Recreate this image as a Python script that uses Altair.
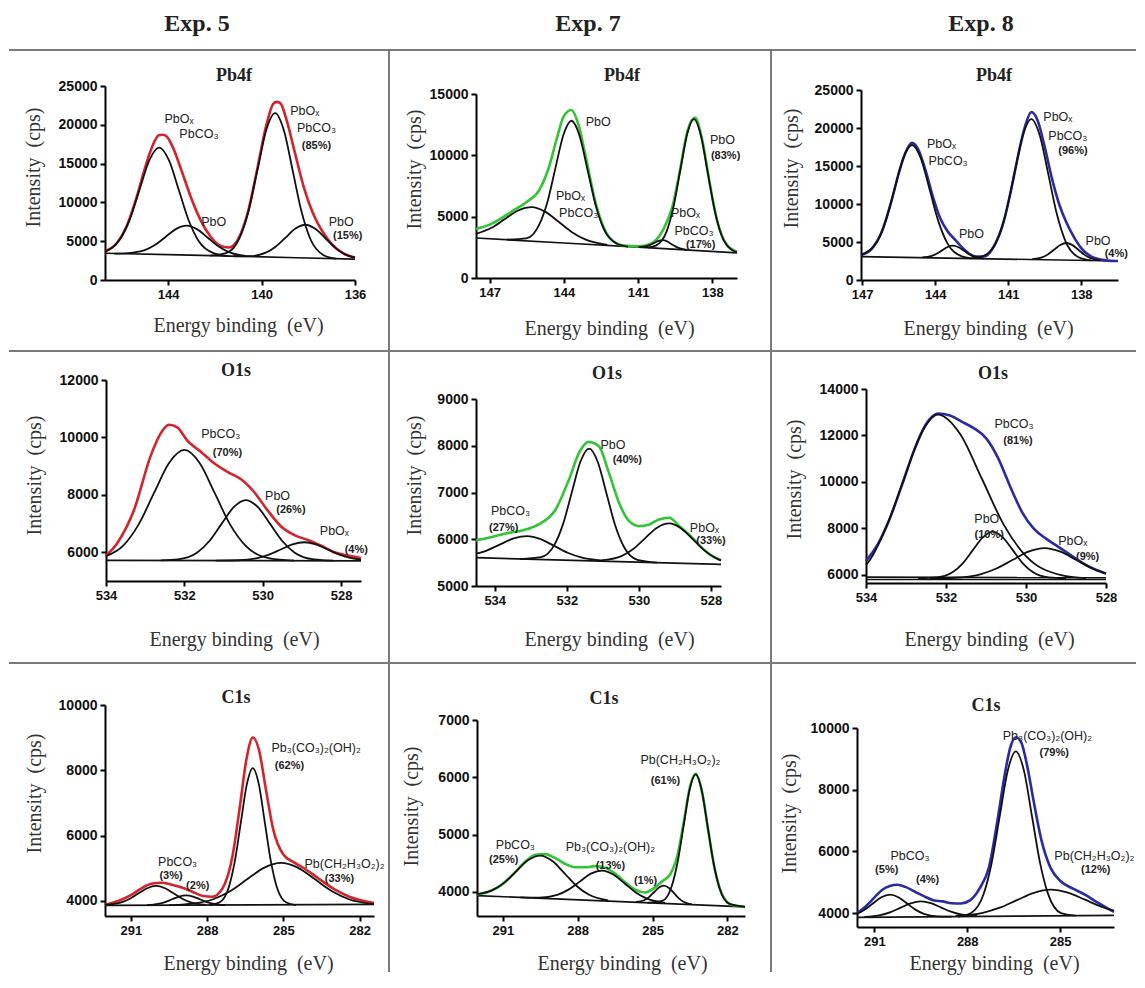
import altair as alt
import pandas as pd

# ---------------------------------------------------------------- headers
EXPERIMENTS = ["Exp. 5", "Exp. 7", "Exp. 8"]
REGIONS = ["Pb4f", "O1s", "C1s"]
ENV_COLORS = ["#d3232b", "#33c433", "#2b2aa6"]
X_TITLE = "Energy binding\u00a0 (eV)"
Y_TITLE = "Intensity\u00a0 (cps)"

# ---------------------------------------------------------------- Exp. 5 - Pb4f
E5_PB_XT = [144, 140, 136]
E5_PB_YT = [0, 5000, 10000, 15000, 20000, 25000]
E5_PB_BASE = [(146.7, 3450), (143.5, 3240), (141.3, 3080), (138.5, 2870), (136.0, 2700)]
E5_PB_ENV = [(146.7, 3700), (146.2, 4740), (145.8, 6744), (145.4, 10136), (145.0, 14322), (144.7, 17044),
             (144.4, 18650), (144.25, 18720), (144.1, 18600), (143.8, 17122), (143.4, 13885), (143.0, 10460),
             (142.6, 7661), (142.2, 5672), (141.8, 4464), (141.4, 4184), (141.0, 5273), (140.6, 8548),
             (140.2, 14040), (139.8, 19895), (139.5, 22700), (139.35, 22950), (139.2, 22800), (138.9, 20319),
             (138.6, 16734), (138.2, 12047), (137.8, 8607), (137.4, 6277), (137.0, 4661), (136.5, 3436),
             (136.0, 2890)]
E5_PB_A = [(146.7, 3650), (146.06, 5240), (145.64, 7815), (145.22, 11670), (144.80, 15450), (144.38, 17070),
           (143.96, 15410), (143.54, 11590), (143.12, 7695), (142.70, 5060), (142.03, 3430), (141.4, 3080)]
E5_PB_B = [(146.3, 3400), (145.72, 3465), (145.0, 3844), (144.55, 4533), (144.1, 5572), (143.65, 6590),
           (143.2, 7000), (142.75, 6527), (142.3, 5446), (141.85, 4344), (141.4, 3592), (140.68, 3103)]
E5_PB_C = [(142.2, 3130), (141.52, 3455), (140.92, 5557), (140.545, 9048), (140.17, 14255), (139.795, 19354),
           (139.42, 21510), (139.045, 19301), (138.67, 14150), (138.295, 8891), (137.92, 5347), (137.32, 3160),
           (136.8, 2750)]
E5_PB_D = [(141.2, 3060), (140.5, 3075), (139.82, 3518), (139.40, 4296), (138.97, 5470), (138.55, 6628),
           (138.12, 7120), (137.70, 6590), (137.27, 5380), (136.85, 4146), (136.42, 3308), (136.0, 2888)]
E5_PB_LABELS = [(143.53, 20710, "PbOₓ", 0), (142.68, 18780, "PbCO₃", 0), (142.05, 7420, "PbO", 0),
                (138.15, 21780, "PbOₓ", 0), (137.65, 19550, "PbCO₃", 0), (137.65, 17280, "(85%)", 1),
                (136.59, 7500, "PbO", 0), (136.31, 5700, "(15%)", 1)]

# ---------------------------------------------------------------- Exp. 7 - Pb4f
E7_PB_XT = [147, 144, 141, 138]
E7_PB_YT = [0, 5000, 10000, 15000]
E7_PB_BASE = [(147.55, 3263), (144.0, 2855), (141.0, 2510), (137.0, 2050)]
E7_PB_ENV = [(147.55, 4000), (147.0, 4350), (146.5, 4900), (146.0, 5550), (145.5, 6200), (145.0, 7150),
             (144.6, 9050), (144.3, 11250), (144.0, 13200), (143.7, 13700), (143.4, 12450), (143.1, 9750),
             (142.7, 6000), (142.3, 3750), (141.9, 2870), (141.5, 2620), (141.0, 2580), (140.5, 2780),
             (140.0, 3880), (139.6, 5900), (139.3, 8850), (139.0, 12000), (138.7, 13080), (138.4, 11200),
             (138.1, 7700), (137.8, 4650), (137.4, 2680), (137.0, 2150)]
E7_PB_A = [(147.55, 3600), (146.925, 4093), (146.38, 4812), (145.835, 5516), (145.29, 5780), (144.745, 5392),
           (144.2, 4562), (143.655, 3717), (143.11, 3129), (142.24, 2707)]
E7_PB_B = [(146.3, 3130), (145.51, 3228), (145.0, 4323), (144.665, 6178), (144.34, 8958), (144.015, 11680),
           (143.69, 12820), (143.365, 11607), (143.04, 8810), (142.715, 5954), (142.39, 4023), (141.87, 2808),
           (141.4, 2560)]
E7_PB_C = [(140.98, 2522), (140.7, 2569), (140.525, 2678), (140.35, 2850), (140.175, 3020), (140.0, 3080),
           (139.825, 2980), (139.65, 2770), (139.475, 2557), (139.3, 2408), (139.02, 2297)]
E7_PB_D = [(140.6, 2480), (140.28, 2639), (139.84, 3825), (139.565, 5819), (139.29, 8803), (139.015, 11725),
           (138.74, 12950), (138.465, 11661), (138.19, 8677), (137.915, 5629), (137.64, 3572), (137.2, 2285),
           (137.0, 2090)]
E7_PB_LABELS = [(142.61, 12680, "PbO", 0), (143.73, 6680, "PbOₓ", 0), (143.4, 5320, "PbCO₃", 0),
                (137.59, 11235, "PbO", 0), (137.46, 9950, "(83%)", 1), (139.08, 5320, "PbOₓ", 0),
                (138.74, 3820, "PbCO₃", 0), (138.47, 2730, "(17%)", 1)]

# ---------------------------------------------------------------- Exp. 8 - Pb4f
E8_PB_XT = [147, 144, 141, 138]
E8_PB_YT = [0, 5000, 10000, 15000, 20000, 25000]
E8_PB_BASE = [(147.05, 3080), (136.49, 2500)]
E8_PB_ENV = [(147.05, 3290), (146.6, 4132), (146.2, 6304), (145.8, 10380), (145.5, 14047), (145.2, 16950),
             (144.95, 18050), (144.7, 17200), (144.4, 14450), (144.1, 11000), (143.8, 8150), (143.5, 6450),
             (143.2, 5350), (142.9, 4300), (142.6, 3453), (142.3, 3087), (142.0, 3087), (141.6, 4373),
             (141.2, 7546), (140.9, 11596), (140.6, 16293), (140.3, 20300), (140.05, 22100), (139.8, 21050),
             (139.5, 17500), (139.2, 13300), (138.9, 9900), (138.6, 7500), (138.3, 5650), (138.0, 4200),
             (137.6, 3100), (137.2, 2680), (136.8, 2520), (136.49, 2500)]
E8_PB_A = [(147.05, 3290), (146.39, 5046), (146.03, 7828), (145.67, 11977), (145.31, 16042), (144.95, 17760),
           (144.59, 16003), (144.23, 11899), (143.87, 7710), (143.51, 4888), (142.93, 3147), (142.5, 2840)]
E8_PB_B = [(144.53, 2974), (144.17, 3144), (143.945, 3445), (143.72, 3898), (143.495, 4340), (143.27, 4520),
           (143.045, 4316), (142.82, 3849), (142.595, 3372), (142.37, 3046), (142.01, 2836)]
E8_PB_C = [(142.5, 2860), (142.01, 3169), (141.45, 5273), (141.1, 8755), (140.75, 13944), (140.4, 19027),
           (140.05, 21180), (139.7, 18989), (139.35, 13868), (139.0, 8640), (138.65, 5119), (138.09, 2953),
           (137.6, 2580)]
E8_PB_D = [(140.01, 2738), (139.61, 2975), (139.36, 3388), (139.11, 4008), (138.86, 4615), (138.61, 4870),
           (138.36, 4589), (138.11, 3954), (137.86, 3306), (137.61, 2865), (137.21, 2584)]
E8_PB_LABELS = [(143.74, 17890, "PbOₓ", 0), (143.47, 15700, "PbCO₃", 0), (142.51, 6050, "PbO", 0),
                (138.96, 21400, "PbOₓ", 0), (138.55, 18990, "PbCO₃", 0), (138.34, 17020, "(96%)", 1),
                (137.31, 5180, "PbO", 0), (136.56, 3420, "(4%)", 1)]

# ---------------------------------------------------------------- Exp. 5 - O1s
E5_O_XT = [534, 532, 530, 528]
E5_O_YT = [6000, 8000, 10000, 12000]
E5_O_BASE = [(534.0, 5720), (527.49, 5700)]
E5_O_ENV = [(534.0, 5880), (533.71, 6326), (533.28, 7490), (532.86, 9357), (532.6, 10150), (532.39, 10440),
            (532.18, 10350), (531.92, 9880), (531.58, 9500), (531.24, 9100), (530.9, 8800), (530.56, 8550),
            (530.22, 8100), (529.87, 7450), (529.53, 6900), (529.19, 6600), (528.85, 6430), (528.51, 6230),
            (528.17, 6000), (527.83, 5883), (527.49, 5800)]
E5_O_A = [(534.0, 5865), (533.56, 6232), (533.17, 6962), (532.78, 8049), (532.39, 9113), (532.0, 9566),
          (531.61, 9113), (531.22, 8049), (530.83, 6962), (530.44, 6232), (529.82, 5786), (529.2, 5712)]
E5_O_B = [(532.6, 5715), (532.17, 5752), (531.67, 5995), (531.36, 6394), (531.05, 6989), (530.74, 7570),
          (530.43, 7818), (530.12, 7570), (529.81, 6989), (529.5, 6394), (529.19, 5995), (528.69, 5752),
          (528.2, 5712)]
E5_O_C = [(531.2, 5710), (530.62, 5723), (530.14, 5797), (529.84, 5918), (529.54, 6098), (529.24, 6275),
          (528.94, 6350), (528.64, 6275), (528.34, 6098), (528.04, 5918), (527.74, 5797), (527.49, 5744)]
E5_O_LABELS = [(531.07, 10114, "PbCO₃", 0), (530.9, 9473, "(70%)", 1), (529.62, 7958, "PbO", 0),
               (529.28, 7457, "(26%)", 1), (528.17, 6734, "PbOₓ", 0), (527.61, 6093, "(4%)", 1)]

# ---------------------------------------------------------------- Exp. 7 - O1s
E7_O_XT = [534, 532, 530, 528]
E7_O_YT = [5000, 6000, 7000, 8000, 9000]
E7_O_BASE = [(534.52, 5605), (527.72, 5463)]
E7_O_ENV = [(534.52, 5975), (534.17, 6032), (533.7, 6125), (533.24, 6189), (532.78, 6317), (532.31, 6637),
            (531.94, 7278), (531.66, 7847), (531.4, 8082), (531.11, 7989), (530.83, 7420), (530.55, 6779),
            (530.27, 6388), (529.99, 6281), (529.71, 6317), (529.44, 6423), (529.16, 6459), (528.88, 6281),
            (528.6, 6100), (528.32, 5870), (528.04, 5680), (527.72, 5550)]
E7_O_A = [(534.52, 5690), (534.225, 5758), (533.85, 5889), (533.475, 6017), (533.1, 6068), (532.725, 6002),
          (532.35, 5858), (531.975, 5711), (531.6, 5610), (531.0, 5540)]
E7_O_B = [(533.3, 5575), (532.72, 5616), (532.34, 5885), (532.1, 6334), (531.86, 7006), (531.62, 7663),
          (531.38, 7940), (531.14, 7653), (530.9, 6986), (530.66, 6304), (530.42, 5845), (530.04, 5560),
          (529.5, 5500)]
E7_O_C = [(531.04, 5549), (530.5, 5635), (530.165, 5788), (529.83, 6020), (529.495, 6246), (529.16, 6338),
          (528.825, 6232), (528.49, 5992), (528.155, 5746), (527.82, 5579), (527.72, 5547)]
E7_O_LABELS = [(530.72, 8025, "PbO", 0), (530.32, 7705, "(40%)", 1), (533.56, 6601, "PbCO₃", 0),
               (533.75, 6246, "(27%)", 1), (528.18, 6246, "PbOₓ", 0), (528.0, 5961, "(33%)", 1)]

# ---------------------------------------------------------------- Exp. 8 - O1s
E8_O_XT = [534, 532, 530, 528]
E8_O_YT = [6000, 8000, 10000, 12000, 14000]
E8_O_BASE1 = [(534.0, 5800), (528.0, 5800)]
E8_O_BASE2 = [(534.0, 5900), (528.0, 5880)]
E8_O_ENV = [(534.0, 6598), (533.7, 7335), (533.4, 8449), (533.1, 9874), (532.8, 11348), (532.5, 12483),
            (532.2, 12947), (531.9, 12860), (531.6, 12588), (531.3, 12308), (531.0, 11888), (530.7, 11038),
            (530.4, 9818), (530.1, 8705), (529.8, 7978), (529.5, 7559), (529.2, 7218), (528.9, 6872),
            (528.6, 6531), (528.3, 6251), (528.0, 6054)]
E8_O_A = [(534.0, 6420), (533.9, 6650), (533.475, 8139), (533.05, 10126), (532.625, 12072), (532.2, 12900),
          (531.65, 12072), (531.1, 10126), (530.55, 8139), (530.0, 6804), (529.12, 5990), (528.5, 5860)]
E8_O_B = [(532.7, 5852), (532.23, 5890), (531.83, 6121), (531.58, 6499), (531.33, 7063), (531.08, 7615),
          (530.83, 7864), (530.58, 7615), (530.33, 7063), (530.08, 6499), (529.83, 6121), (529.43, 5890),
          (529.0, 5855)]
E8_O_C = [(532.4, 5852), (531.78, 5876), (531.14, 6026), (530.74, 6272), (530.34, 6638), (529.94, 6997),
          (529.54, 7150), (529.14, 6997), (528.74, 6638), (528.34, 6272), (528.0, 6054)]
E8_O_LABELS = [(530.3, 12500, "PbCO₃", 0), (530.2, 11750, "(81%)", 1), (530.98, 8409, "PbO", 0),
               (530.92, 7720, "(10%)", 1), (528.83, 7450, "PbOₓ", 0), (528.46, 6760, "(9%)", 1)]

# ---------------------------------------------------------------- Exp. 5 - C1s
E5_C_XT = [291, 288, 285, 282]
E5_C_YT = [4000, 6000, 8000, 10000]
E5_C_BASE = [(292.02, 3866), (281.43, 3897)]
E5_C_ENV = [(292.02, 3880), (291.5, 4000), (291.0, 4180), (290.6, 4380), (290.2, 4530), (289.8, 4560),
            (289.4, 4500), (289.0, 4410), (288.6, 4290), (288.2, 4160), (287.8, 4130), (287.4, 4380),
            (287.0, 5380), (286.7, 6950), (286.45, 8350), (286.2, 9000), (285.95, 8600), (285.7, 7480),
            (285.4, 6200), (285.0, 5420), (284.6, 5190), (284.2, 5010), (283.6, 4680), (283.0, 4360),
            (282.4, 4130), (281.43, 3940)]
E5_C_A = [(292.02, 3880), (291.41, 3950), (291.06, 4062), (290.71, 4228), (290.36, 4391), (290.01, 4460),
          (289.66, 4391), (289.31, 4228), (288.96, 4062), (288.61, 3950), (288.05, 3882)]
E5_C_B = [(290.37, 3876), (289.93, 3911), (289.655, 3967), (289.38, 4052), (289.105, 4135), (288.83, 4170),
          (288.555, 4135), (288.28, 4052), (288.005, 3967), (287.73, 3911), (287.29, 3876)]
E5_C_C = [(287.9, 3880), (287.52, 3953), (287.14, 4438), (286.905, 5234), (286.67, 6417), (286.435, 7577),
          (286.2, 8070), (285.965, 7577), (285.73, 6417), (285.495, 5234), (285.26, 4438), (284.88, 3953),
          (284.5, 3875)]
E5_C_D = [(289.5, 3872), (288.87, 3896), (287.79, 4045), (287.115, 4290), (286.44, 4655), (285.765, 5013),
          (285.09, 5165), (284.415, 5013), (283.74, 4655), (283.065, 4290), (282.39, 4045), (281.43, 3903)]
E5_C_LABELS = [(283.71, 8670, "Pb₃(CO₃)₂(OH)₂", 0), (284.76, 8124, "(62%)", 1), (289.16, 5186, "PbCO₃", 0),
               (289.42, 4753, "(3%)", 1), (288.37, 4464, "(2%)", 1), (282.59, 5134, "Pb(CH₂H₃O₂)₂", 0),
               (282.79, 4670, "(33%)", 1)]

# ---------------------------------------------------------------- Exp. 7 - C1s
E7_C_XT = [291, 288, 285, 282]
E7_C_YT = [4000, 5000, 6000, 7000]
E7_C_BASE = [(292.04, 3936), (281.29, 3738)]
E7_C_ENV = [(292.04, 3960), (291.6, 4000), (291.1, 4111), (290.6, 4303), (290.1, 4530), (289.7, 4650),
            (289.3, 4660), (288.9, 4590), (288.5, 4490), (288.1, 4430), (287.7, 4430), (287.3, 4450),
            (286.9, 4420), (286.5, 4320), (286.1, 4170), (285.7, 4040), (285.3, 3990), (284.9, 4080),
            (284.6, 4190), (284.3, 4300), (284.0, 4640), (283.75, 5210), (283.5, 5830), (283.27, 6060),
            (283.0, 5720), (282.75, 5030), (282.5, 4390), (282.2, 3950), (281.8, 3770), (281.29, 3740)]
E7_C_A = [(292.04, 3960), (291.44, 4026), (290.955, 4158), (290.47, 4359), (289.985, 4556), (289.5, 4635),
          (289.015, 4538), (288.53, 4323), (288.045, 4104), (287.56, 3954), (286.78, 3854)]
E7_C_B = [(290.3, 3905), (289.54, 3899), (288.82, 3948), (288.37, 4040), (287.92, 4180), (287.47, 4319),
          (287.02, 4373), (286.57, 4303), (286.12, 4148), (285.67, 3991), (285.22, 3882), (284.5, 3807)]
E7_C_C = [(285.66, 3824), (285.34, 3854), (285.14, 3910), (284.94, 3994), (284.74, 4077), (284.54, 4110),
          (284.34, 4069), (284.14, 3980), (283.94, 3888), (283.74, 3825), (283.42, 3783)]
E7_C_D = [(285.2, 3810), (284.61, 3844), (284.23, 4100), (283.99, 4526), (283.75, 5163), (283.51, 5787),
          (283.27, 6050), (283.03, 5779), (282.79, 5146), (282.55, 4500), (282.31, 4065), (281.93, 3795),
          (281.29, 3740)]
E7_C_LABELS = [(283.88, 6300, "Pb(CH₂H₃O₂)₂", 0), (284.48, 5934, "(61%)", 1), (290.5, 4827, "PbCO₃", 0),
               (290.97, 4553, "(25%)", 1), (286.69, 4780, "Pb₃(CO₃)₂(OH)₂", 0), (286.69, 4460, "(13%)", 1),
               (285.28, 4186, "(1%)", 1)]

# ---------------------------------------------------------------- Exp. 8 - C1s
E8_C_XT = [291, 288, 285]
E8_C_YT = [4000, 6000, 8000, 10000]
E8_C_BASE = [(291.56, 3860), (283.26, 3930)]
E8_C_ENV = [(291.56, 4000), (291.3, 4200), (291.0, 4500), (290.75, 4750), (290.5, 4880), (290.25, 4920),
            (290.0, 4850), (289.7, 4700), (289.4, 4550), (289.1, 4420), (288.8, 4380), (288.5, 4320),
            (288.2, 4310), (287.9, 4420), (287.6, 4800), (287.3, 5480), (287.0, 7150), (286.8, 8420),
            (286.6, 9400), (286.43, 9700), (286.25, 9520), (286.05, 8700), (285.85, 7600), (285.6, 6350),
            (285.3, 5450), (285.0, 5050), (284.6, 4800), (284.2, 4600), (283.8, 4350), (283.26, 4040)]
E8_C_A = [(291.56, 3975), (291.325, 4102), (291.05, 4311), (290.775, 4513), (290.5, 4600), (290.225, 4516),
          (289.95, 4317), (289.675, 4113), (289.4, 3977), (288.96, 3895), (288.5, 3885)]
E8_C_B = [(291.32, 3875), (290.8, 3937), (290.475, 4033), (290.15, 4177), (289.825, 4317), (289.5, 4378),
          (289.175, 4321), (288.85, 4186), (288.525, 4047), (288.2, 3955), (287.68, 3901)]
E8_C_C = [(288.3, 3890), (287.89, 3998), (287.47, 4619), (287.21, 5634), (286.95, 7144), (286.69, 8622),
          (286.43, 9243), (286.17, 8626), (285.91, 7148), (285.65, 5638), (285.39, 4623), (284.97, 4002),
          (284.5, 3920)]
E8_C_D = [(288.38, 3903), (287.5, 4010), (286.95, 4175), (286.4, 4419), (285.85, 4657), (285.3, 4760),
          (284.75, 4665), (284.2, 4435), (283.65, 4199), (283.26, 4079)]
E8_C_LABELS = [(285.41, 9730, "Pb₃(CO₃)₂(OH)₂", 0), (285.19, 9189, "(79%)", 1), (289.85, 5860, "PbCO₃", 0),
               (290.6, 5400, "(5%)", 1), (289.28, 5059, "(4%)", 1), (283.85, 5405, "(12%)", 1),
               (282.6, 5838, "Pb(CH₂H₃O₂)₂", 2)]

# ---------------------------------------------------------------- assemble data per panel
PANELS = [
    ("E5_PB", [E5_PB_BASE], E5_PB_ENV, [E5_PB_A, E5_PB_B, E5_PB_C, E5_PB_D], E5_PB_LABELS, E5_PB_XT, E5_PB_YT),
    ("E7_PB", [E7_PB_BASE], E7_PB_ENV, [E7_PB_A, E7_PB_B, E7_PB_C, E7_PB_D], E7_PB_LABELS, E7_PB_XT, E7_PB_YT),
    ("E8_PB", [E8_PB_BASE], E8_PB_ENV, [E8_PB_A, E8_PB_B, E8_PB_C, E8_PB_D], E8_PB_LABELS, E8_PB_XT, E8_PB_YT),
    ("E5_O", [E5_O_BASE], E5_O_ENV, [E5_O_A, E5_O_B, E5_O_C], E5_O_LABELS, E5_O_XT, E5_O_YT),
    ("E7_O", [E7_O_BASE], E7_O_ENV, [E7_O_A, E7_O_B, E7_O_C], E7_O_LABELS, E7_O_XT, E7_O_YT),
    ("E8_O", [E8_O_BASE1, E8_O_BASE2], E8_O_ENV, [E8_O_A, E8_O_B, E8_O_C], E8_O_LABELS, E8_O_XT, E8_O_YT),
    ("E5_C", [E5_C_BASE], E5_C_ENV, [E5_C_A, E5_C_B, E5_C_C, E5_C_D], E5_C_LABELS, E5_C_XT, E5_C_YT),
    ("E7_C", [E7_C_BASE], E7_C_ENV, [E7_C_A, E7_C_B, E7_C_C, E7_C_D], E7_C_LABELS, E7_C_XT, E7_C_YT),
    ("E8_C", [E8_C_BASE], E8_C_ENV, [E8_C_A, E8_C_B, E8_C_C, E8_C_D], E8_C_LABELS, E8_C_XT, E8_C_YT),
]

# ---------------------------------------------------------------- layout (pixels, styles)
COL_W = [269, 279, 261]
ROW_H = [194, 225, 222]
LAYOUT = {
    "E5_PB": dict(xdom=[146.7, 136.0], ydom=[0, 25000], xr=[0, 250], yr=[194, 0], xoff=0, yoff=0,
                  yt=(-72, 81), xt=(133, 45), head=(129, -10)),
    "E7_PB": dict(xdom=[147.55, 137.0], ydom=[0, 15000], xr=[0, 261], yr=[192, 8], xoff=-2, yoff=0,
                  yt=(-62, 83), xt=(133, 50), head=(146, -10)),
    "E8_PB": dict(xdom=[147.05, 136.49], ydom=[0, 25000], xr=[4, 261], yr=[194, 4], xoff=0, yoff=-4,
                  yt=(-70, 82), xt=(131, 48), head=(137, -10)),
    "E5_O": dict(xdom=[534.0, 527.49], ydom=[5000, 12000], xr=[1, 256], yr=[201, 0], xoff=-24, yoff=-1,
                 yt=(-72, 95), xt=(129, 58), head=(131, -9)),
    "E7_O": dict(xdom=[534.52, 527.72], ydom=[5000, 9000], xr=[0, 245], yr=[206, 19], xoff=-19, yoff=0,
                 yt=(-62, 95), xt=(133, 53), head=(131, -6)),
    "E8_O": dict(xdom=[534.0, 528.0], ydom=[5650, 14000], xr=[9, 249], yr=[203, 9], xoff=-22, yoff=-9,
                 yt=(-72, 99), xt=(132, 56), head=(136, -6)),
    "E5_C": dict(xdom=[292.02, 281.43], ydom=[3540, 10000], xr=[0, 269], yr=[211, 0], xoff=-11, yoff=0,
                 yt=(-71, 88), xt=(143, 47), head=(131, -7)),
    "E7_C": dict(xdom=[292.04, 281.29], ydom=[3580, 7000], xr=[1, 269], yr=[211, 15], xoff=-11, yoff=-1,
                 yt=(-66, 101), xt=(146, 47), head=(128, -6)),
    "E8_C": dict(xdom=[291.56, 283.26], ydom=[3550, 10000], xr=[0, 257], yr=[222, 23], xoff=0, yoff=0,
                 yt=(-68, 108), xt=(137, 36), head=(129, 1)),
}
HEADER_POS = [(92, -74), (483, -74), (876, -74)]
HLINES_Y = [-36, 265, 577]
VLINES_X = [284, 666]

SANS = "Liberation Sans, Arial, DejaVu Sans"
SERIF = "Liberation Serif, Times New Roman, DejaVu Serif"
ONE = pd.DataFrame({"k": [0]})


def curves_df(curves):
    rows = []
    for i, pts in enumerate(curves):
        for x, y in pts:
            rows.append({"x": x, "y": y, "curve": "c%d" % i})
    return pd.DataFrame(rows)


def build_panel(idx, key, bases, env, comps, labels, xticks, yticks):
    L = LAYOUT[key]
    r, c = divmod(idx, 3)
    xenc = alt.X("x:Q",
                 scale=alt.Scale(domain=L["xdom"], range=L["xr"], zero=False, nice=False),
                 axis=alt.Axis(values=xticks, format="d", title=X_TITLE,
                               titleX=L["xt"][0], titleY=L["xt"][1], offset=L["xoff"]))
    yenc = alt.Y("y:Q",
                 scale=alt.Scale(domain=L["ydom"], range=L["yr"], zero=False, nice=False),
                 axis=alt.Axis(values=yticks, format="d", title=Y_TITLE,
                               titleX=L["yt"][0], titleY=L["yt"][1], offset=L["yoff"]))
    layers = [
        alt.Chart(curves_df(bases)).mark_line(color="#111", strokeWidth=1.7).encode(
            x=xenc, y=yenc, detail="curve:N"),
        alt.Chart(curves_df([env])).mark_line(color=ENV_COLORS[c], strokeWidth=2.6,
                                              interpolate="monotone").encode(x=xenc, y=yenc),
        alt.Chart(curves_df(comps)).mark_line(color="#111", strokeWidth=1.8,
                                              interpolate="monotone").encode(
            x=xenc, y=yenc, detail="curve:N"),
    ]
    lab = pd.DataFrame(labels, columns=["x", "y", "t", "s"])
    styles = {0: dict(fontSize=12.5, fontWeight="normal", align="center"),
              1: dict(fontSize=11, fontWeight="bold", align="center"),
              2: dict(fontSize=12.5, fontWeight="normal", align="right")}
    for s, kw in styles.items():
        sub = lab[lab["s"] == s]
        if len(sub):
            layers.append(alt.Chart(sub).mark_text(font=SANS, color="#222", baseline="middle", **kw)
                          .encode(x=xenc, y=yenc, text="t:N"))
    layers.append(alt.Chart(ONE).mark_text(text=REGIONS[r], font=SERIF, fontSize=18, fontWeight="bold",
                                           color="#222").encode(x=alt.value(L["head"][0]),
                                                                y=alt.value(L["head"][1])))
    if idx == 0:
        for (hx, hy), name in zip(HEADER_POS, EXPERIMENTS):
            layers.append(alt.Chart(ONE).mark_text(text=name, font=SERIF, fontSize=24, fontWeight="bold",
                                                   baseline="top", color="#222").encode(
                x=alt.value(hx), y=alt.value(hy)))
        for yy in HLINES_Y:
            layers.append(alt.Chart(ONE).mark_rule(color="#7a7a7a", strokeWidth=2).encode(
                x=alt.value(-96), x2=alt.value(1031), y=alt.value(yy)))
        for xx in VLINES_X:
            layers.append(alt.Chart(ONE).mark_rule(color="#7a7a7a", strokeWidth=2).encode(
                x=alt.value(xx), y=alt.value(-36), y2=alt.value(886)))
        # invisible corner anchors that fix the page extent
        layers.append(alt.Chart(ONE).mark_rule(color="white", strokeWidth=1).encode(
            x=alt.value(-96), x2=alt.value(-90), y=alt.value(-77)))
        layers.append(alt.Chart(ONE).mark_rule(color="white", strokeWidth=1).encode(
            x=alt.value(-96), x2=alt.value(-90), y=alt.value(889)))
    return alt.layer(*layers).properties(width=COL_W[c], height=ROW_H[r])


panels = [build_panel(i, *p) for i, p in enumerate(PANELS)]

chart = alt.concat(*panels, columns=3, spacing={"row": 100, "column": 102}, bounds="flush",
                   align="each", padding=0, background="white").configure_view(
    stroke=None
).configure_axis(
    domainColor="#000", domainWidth=2, tickColor="#000", tickWidth=2, tickSize=5,
    labelFont=SANS, labelFontWeight="bold", labelColor="#111", labelFontSize=13, labelPadding=3,
    titleFont=SERIF, titleFontSize=20, titleFontWeight="normal", titleColor="#333",
    titleBaseline="middle", titleAlign="center", grid=False, labelFlush=False, labelOverlap=False
).configure_axisY(labelFontSize=14)

chart.save("out.html", embed_options={"renderer": "svg", "actions": False})
